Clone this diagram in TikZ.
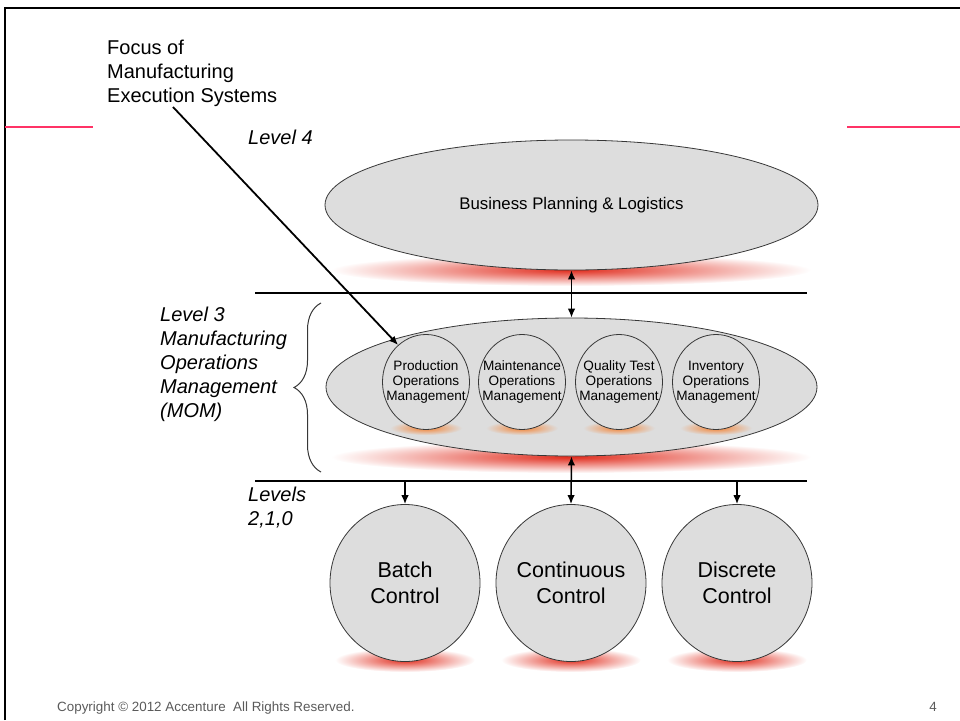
\documentclass[tikz,border=0pt]{standalone}
\usepackage{fontspec}
\setmainfont{Liberation Sans}
\usetikzlibrary{shapes.geometric,arrows.meta,decorations.pathreplacing}
\definecolor{nodefill}{RGB}{221,221,221}
\definecolor{pinkline}{RGB}{255,51,102}
\definecolor{glowred}{RGB}{225,45,30}
\definecolor{gloworange}{RGB}{245,130,50}
\definecolor{edgegray}{RGB}{55,55,55}
\definecolor{footgray}{RGB}{90,90,90}
\begin{document}
\begin{tikzpicture}[x=1pt,y=-1pt,
  bigell/.style={ellipse, draw=edgegray, fill=nodefill, line width=0.8pt, inner sep=0pt},
  smallc/.style={ellipse, draw=edgegray, fill=nodefill, line width=0.8pt, inner sep=0pt, minimum width=87pt, minimum height=95pt},
  bigc/.style={ellipse, draw=edgegray, fill=nodefill, line width=0.8pt, inner sep=0pt, minimum width=150pt, minimum height=157pt},
  smalltxt/.style={font=\fontsize{13.6}{15}\selectfont, align=center, inner sep=0pt},
  bigtxt/.style={font=\fontsize{21.5}{26}\selectfont, align=center, inner sep=0pt},
  lbl/.style={font=\fontsize{20}{24}\selectfont, align=left, inner sep=0pt},
  ital/.style={font=\fontsize{20}{24}\selectfont\itshape, align=left, inner sep=0pt},
  foot/.style={font=\fontsize{13.4}{15}\selectfont, text=footgray, inner sep=0pt},
  hline/.style={line width=1.8pt},
  arr/.style={line width=1.5pt, -{Latex[length=9pt,width=7.5pt]}},
  darr/.style={line width=1.5pt, {Latex[length=9pt,width=7.5pt]}-{Latex[length=9pt,width=7.5pt]}},
  redglow/.style={inner color=glowred, outer color=white},
  orglow/.style={inner color=gloworange, outer color=nodefill}
]
\useasboundingbox (0,0) rectangle (960,720);

% frame
\coordinate (fbl) at (5,720);
\coordinate (ftl) at (5,8);
\coordinate (ftr) at (960,8);
\draw[line width=2.5pt] (fbl) -- (ftl) -- (ftr);

% pink rules
\coordinate (pl1) at (5,127);
\coordinate (pl2) at (93,127);
\coordinate (pr1) at (847,127);
\coordinate (pr2) at (960,127);
\draw[pinkline, line width=2pt] (pl1) -- (pl2);
\draw[pinkline, line width=2pt] (pr1) -- (pr2);

% glows under big shapes
\shade[redglow] (571,270) ellipse [x radius=240pt, y radius=16pt];
\shade[redglow] (571,457) ellipse [x radius=240pt, y radius=16pt];
\shade[redglow] (405,660) ellipse [x radius=70pt, y radius=12pt];
\shade[redglow] (571,660) ellipse [x radius=70pt, y radius=12pt];
\shade[redglow] (737,660) ellipse [x radius=70pt, y radius=12pt];

% level 4
\node[bigell, minimum width=493pt, minimum height=130pt, font=\fontsize{16.8}{20}\selectfont] (bpl) at (571.5,205) {Business Planning \& Logistics};

% level 3
\node[bigell, minimum width=491pt, minimum height=138pt] (mom) at (571.5,387) {};
\shade[orglow] (426,428) ellipse [x radius=36pt, y radius=7pt];
\shade[orglow] (522,428) ellipse [x radius=36pt, y radius=7pt];
\shade[orglow] (619,428) ellipse [x radius=36pt, y radius=7pt];
\shade[orglow] (716,428) ellipse [x radius=36pt, y radius=7pt];
\node[smallc] (prod) at (426,382) {};
\node[smallc] (maint) at (522,382) {};
\node[smallc] (qual) at (619,382) {};
\node[smallc] (inv) at (716,382) {};
\node[smalltxt] (prodt) at (prod.center) {Production\\Operations\\Management};
\node[smalltxt] (maintt) at (maint.center) {Maintenance\\Operations\\Management};
\node[smalltxt] (qualt) at (qual.center) {Quality Test\\Operations\\Management};
\node[smalltxt] (invt) at (inv.center) {Inventory\\Operations\\Management};

% levels 2,1,0
\node[bigc] (batch) at (405,583) {};
\node[bigc] (cont) at (571,583) {};
\node[bigc] (disc) at (737,583) {};
\node[bigtxt] (batcht) at (batch.center) {Batch\\Control};
\node[bigtxt] (contt) at (cont.center) {Continuous\\Control};
\node[bigtxt] (disct) at (disc.center) {Discrete\\Control};

% horizontal rules
\coordinate (l1a) at (255,293);
\coordinate (l1b) at (807,293);
\coordinate (l2a) at (255,481);
\coordinate (l2b) at (807,481);
\draw[hline] (l1a) -- (l1b);
\draw[hline] (l2a) -- (l2b);

% connectors
\draw[darr] (bpl.south) -- (mom.north);
\draw[darr] (mom.south) -- (cont.north);
\coordinate (lb1) at (405,481);
\coordinate (lb3) at (737,481);
\draw[arr] (lb1) -- (batch.north);
\draw[arr] (lb3) -- (disc.north);

% brace
\coordinate (br1) at (321,472);
\coordinate (br2) at (321,303);
\draw[decorate, decoration={brace, amplitude=27pt, aspect=0.5}, edgegray, line width=1pt] (br1) -- (br2);

% labels
\node[lbl, anchor=north west] (focus) at (107,40) {Focus of\\Manufacturing\\Execution Systems};
\coordinate (fstart) at (173,107);
\draw[arr, line width=1.8pt] (fstart) -- (prod.127);
\node[ital, anchor=base west] (lv4) at (248,144) {Level 4};
\node[ital, anchor=north west] (lv3) at (160,307) {Level 3\\Manufacturing\\Operations\\Management\\(MOM)};
\node[ital, anchor=north west] (lv2) at (248,487) {Levels\\2,1,0};

% footer
\node[foot, anchor=base west] (copy) at (57,711) {Copyright © 2012 Accenture\ \ All Rights Reserved.};
\node[foot, anchor=base east] (pg) at (937,711) {4};
\end{tikzpicture}
\end{document}
